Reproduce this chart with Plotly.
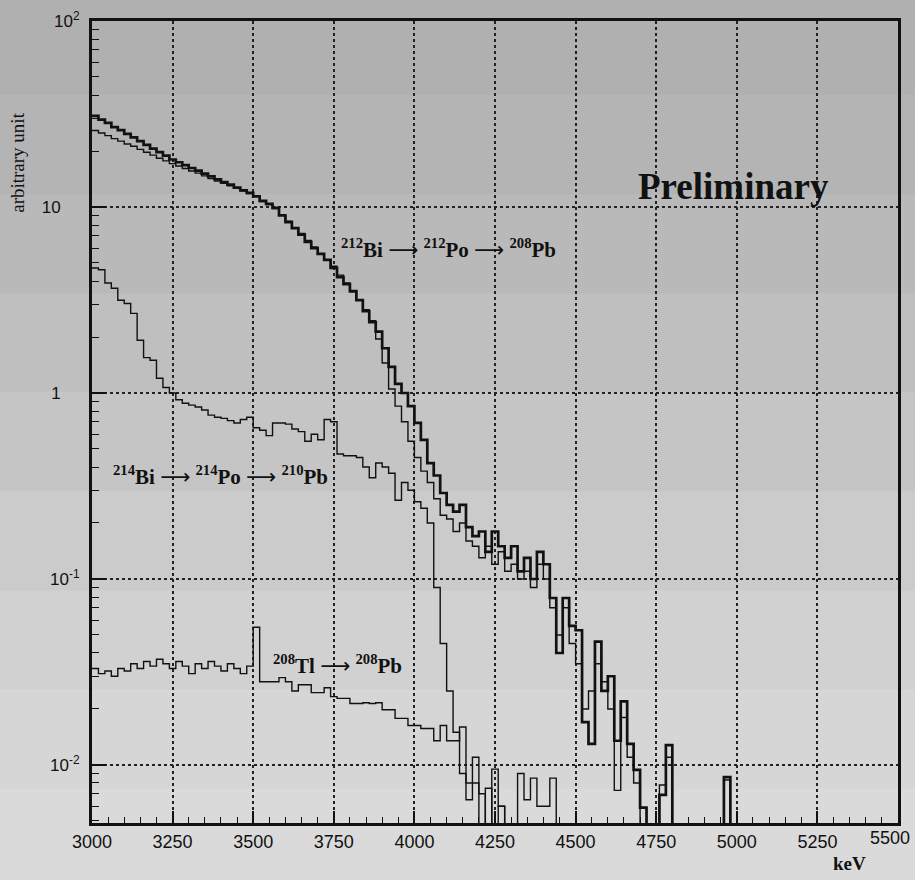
import plotly.graph_objects as go

# ---------------- data (20 keV bins starting at 3000 keV) ----------------
BIN_START = 3000
BIN_WIDTH = 20

# 212Bi -> 212Po -> 208Pb (thick histogram)
bi212_thick = [
    30.9, 29.5, 28.3, 26.9, 25.9, 24.7, 23.7, 22.6, 21.6, 20.6,
    19.7, 18.9, 18.0, 17.4, 16.8, 16.2, 15.7, 15.1, 14.6, 14.1,
    13.6, 13.2, 12.7, 12.3, 11.9, 11.4, 10.8, 10.4, 9.9, 9.0,
    8.3, 7.7, 7.1, 6.5, 6.0, 5.6, 5.2, 4.7, 4.2, 3.85,
    3.53, 3.16, 2.75, 2.4, 2.14, 1.74, 1.38, 1.12, 1.0, 0.85,
    0.69, 0.56, 0.42, 0.36, 0.29, 0.25, 0.23, 0.25, 0.19, 0.17,
    0.18, 0.14, 0.18, 0.15, 0.13, 0.15, 0.11, 0.13, 0.10, 0.14,
    0.12, 0.079, 0.040, 0.079, 0.056, 0.053, 0.017, 0.013, 0.046, 0.025,
    0.030, 0.0135, 0.022, 0.013, 0.0094, 0.0059, 0, 0, 0.0069, 0.0128,
    0, 0, 0, 0, 0, 0, 0, 0, 0.0086,
]

# second (thin) 212Bi histogram
bi212_thin = [
    25.8, 25.0, 24.2, 23.3, 22.6, 21.8, 21.2, 20.4, 19.7, 19.0,
    18.3, 17.7, 17.1, 16.6, 16.1, 15.6, 15.2, 14.7, 14.2, 13.8,
    13.4, 13.0, 12.6, 12.2, 11.8, 11.4, 10.7, 10.3, 9.8, 9.1,
    8.4, 7.7, 7.2, 6.6, 6.1, 5.6, 5.2, 4.8, 4.3, 3.9,
    3.5, 3.15, 2.8, 2.45, 1.95, 1.45, 1.05, 0.85, 0.70, 0.55,
    0.45, 0.38, 0.33, 0.27, 0.22, 0.21, 0.18, 0.20, 0.16, 0.15,
    0.13, 0.15, 0.12, 0.14, 0.11, 0.12, 0.10, 0.11, 0.09, 0.12,
    0.10, 0.07, 0.05, 0.07, 0.045, 0.035, 0.020, 0.025, 0.035, 0.028,
    0.020, 0.0073, 0.018, 0.011, 0.008, 0, 0, 0, 0.0078, 0.011,
    0, 0, 0, 0, 0, 0, 0, 0, 0.0083,
]

# 214Bi -> 214Po -> 210Pb
bi214 = [
    4.7, 4.6, 3.9, 3.66, 3.15, 3.03, 2.68, 1.92, 1.55, 1.5,
    1.2, 1.07, 1.0, 0.92, 0.88, 0.86, 0.84, 0.81, 0.76, 0.74,
    0.73, 0.71, 0.69, 0.72, 0.74, 0.65, 0.63, 0.59, 0.69, 0.69,
    0.68, 0.64, 0.62, 0.55, 0.60, 0.56, 0.72, 0.70, 0.47, 0.46,
    0.46, 0.45, 0.40, 0.35, 0.42, 0.40, 0.37, 0.265, 0.33, 0.30,
    0.26, 0.24, 0.20, 0.09, 0.045, 0.025, 0.015, 0.009, 0.0065, 0.008,
    0, 0.0075, 0, 0.006, 0, 0, 0.009, 0.0065, 0.0085, 0.006,
    0.006, 0.0085,
]

# 208Tl -> 208Pb
tl208 = [
    0.033, 0.031, 0.032, 0.030, 0.033, 0.032, 0.035, 0.033, 0.036, 0.034,
    0.037, 0.035, 0.033, 0.036, 0.034, 0.031, 0.035, 0.033, 0.036, 0.034,
    0.032, 0.035, 0.033, 0.031, 0.034, 0.055, 0.028, 0.028, 0.028, 0.0295,
    0.028, 0.025, 0.027, 0.027, 0.0245, 0.0245, 0.026, 0.0233, 0.0228, 0.0228,
    0.0214, 0.0214, 0.0216, 0.0214, 0.0216, 0.0198, 0.0198, 0.0178, 0.0178, 0.0163,
    0.0163, 0.0157, 0.0157, 0.0135, 0.0163, 0.0135, 0.0135, 0.016, 0.008, 0.011,
    0.007, 0, 0.0095, 0.006,
]

X_TICKS = [3000, 3250, 3500, 3750, 4000, 4250, 4500, 4750, 5000, 5250, 5500]
Y_TICKS = [0.01, 0.1, 1, 10, 100]
NB = "\u00a0"
# the last x label (5500) sits at the right page edge; it is drawn as an annotation shifted inwards
X_TICK_TEXT = [str(t) for t in X_TICKS[:-1]] + [""]
LAST_X_LABEL = str(X_TICKS[-1])
Y_TICK_TEXT = ["10<sup>-2</sup>", "10<sup>-1</sup>", "1" + NB * 4, "10" + NB * 4, "10<sup>2</sup>"]

FLOOR = 1e-4  # empty bins drawn down past the bottom of the frame


def step_xy(vals):
    xs, ys = [], []
    for i, v in enumerate(vals):
        xs.append(BIN_START + i * BIN_WIDTH)
        ys.append(v if v > 0 else FLOOR)
    end = BIN_START + len(vals) * BIN_WIDTH
    xs += [end, end]
    ys += [ys[-1], FLOOR]
    return xs, ys


fig = go.Figure()
for vals, w in [(bi212_thin, 1.4), (bi214, 1.4), (tl208, 1.4), (bi212_thick, 2.7)]:
    xs, ys = step_xy(vals)
    fig.add_trace(go.Scatter(x=xs, y=ys, mode="lines", line=dict(shape="hv", color="#111111", width=w),
                             hoverinfo="skip"))

# scanned-paper background bands (top darker, bottom lighter)
BAND_COLORS = ["#b0b0b0", "#b4b4b4", "#b9b9b9", "#bfbfbf", "#c5c5c5", "#cbcbcb", "#d1d1d1", "#d6d6d6", "#dadada"]
y_top, y_bot = 1.03, -0.08
n = len(BAND_COLORS)
for i, c in enumerate(BAND_COLORS):
    fig.add_shape(type="rect", xref="paper", yref="paper", x0=-0.12, x1=1.03,
                  y0=y_top - (i + 1) * (y_top - y_bot) / n, y1=y_top - i * (y_top - y_bot) / n,
                  fillcolor=c, line=dict(width=0), layer="below")

serif = "Liberation Serif"
sans = "Liberation Sans"
ARROW = '<span style="font-family:DejaVu Sans;font-weight:normal">\u27f6</span>'

ann = [
    dict(x=4105, y=0.778, text=f"<b><sup>212</sup>Bi {ARROW} <sup>212</sup>Po {ARROW} <sup>208</sup>Pb</b>", size=21),
    dict(x=3400, y=-0.442, text=f"<b><sup>214</sup>Bi {ARROW} <sup>214</sup>Po {ARROW} <sup>210</sup>Pb</b>", size=21),
    dict(x=3760, y=-1.459, text=f"<b><sup>208</sup>Tl {ARROW} <sup>208</sup>Pb</b>", size=21),
    dict(x=4990, y=1.111, text="<b>Preliminary</b>", size=37),
]
for a in ann:
    fig.add_annotation(x=a["x"], y=a["y"], xref="x", yref="y", text=a["text"], showarrow=False,
                       font=dict(family=serif, size=a["size"], color="#111111"),
                       xanchor="center", yanchor="middle")

fig.add_annotation(x=-0.092, y=0.823, xref="paper", yref="paper", text="arbitrary unit", textangle=-90,
                   showarrow=False, font=dict(family=serif, size=19, color="#111111"),
                   xanchor="center", yanchor="middle")
fig.add_annotation(x=0.94, y=-0.05, xref="paper", yref="paper", text="<b>keV</b>",
                   showarrow=False, font=dict(family=serif, size=19, color="#111111"),
                   xanchor="center", yanchor="middle")
fig.add_annotation(x=0.99, y=-0.0185, xref="paper", yref="paper", text=LAST_X_LABEL,
                   showarrow=False, font=dict(family=sans, size=18, color="#111111"),
                   xanchor="center", yanchor="middle")

minor_y = [m * 10 ** d for d in range(-3, 2) for m in range(2, 10)]

fig.update_layout(
    width=915, height=880,
    margin=dict(l=92, r=17, t=21, b=57, autoexpand=False),
    paper_bgcolor="#c8c8c8", plot_bgcolor="rgba(0,0,0,0)",
    showlegend=False,
    xaxis=dict(
        range=[3000, 5500], tickmode="array", tickvals=X_TICKS, ticktext=X_TICK_TEXT,
        ticks="inside", ticklen=12, tickwidth=1.5, tickcolor="#111111",
        showline=True, linewidth=3, linecolor="#111111", mirror=True,
        showgrid=True, gridcolor="#222222", griddash="dot", gridwidth=1.5, zeroline=False,
        minor=dict(tickmode="linear", tick0=3000, dtick=50, ticks="inside", ticklen=6,
                   tickwidth=1.2, tickcolor="#111111", showgrid=False),
        tickfont=dict(family=sans, size=18, color="#111111"),
        automargin=False,
    ),
    yaxis=dict(
        type="log", range=[-2.312, 2], tickmode="array", tickvals=Y_TICKS, ticktext=Y_TICK_TEXT,
        ticks="inside", ticklen=14, tickwidth=1.5, tickcolor="#111111",
        showline=True, linewidth=3, linecolor="#111111", mirror=True,
        showgrid=True, gridcolor="#222222", griddash="dot", gridwidth=1.5, zeroline=False,
        minor=dict(tickmode="array", tickvals=minor_y, ticks="inside", ticklen=7,
                   tickwidth=1.2, tickcolor="#111111", showgrid=False),
        tickfont=dict(family=sans, size=17, color="#111111"),
        ticklabelstandoff=6, automargin=False,
    ),
)

# remove the default page margin so the 915x880 figure fills the window exactly
fig.write_html("out.html", config={"displayModeBar": False},
               post_script="document.body.style.margin='0';document.body.style.overflow='hidden';")
